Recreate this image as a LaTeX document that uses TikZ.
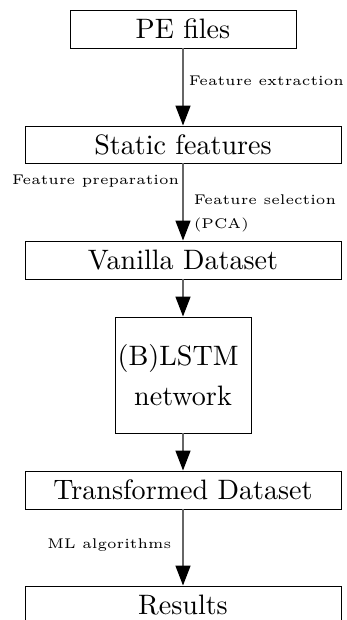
\documentclass[tikz,border=0pt]{standalone}
\usetikzlibrary{arrows.meta}
% one drawing unit
\def\pu{0.356pt}
\tikzset{
  box/.style={draw=black, line width=0.35pt, rectangle, inner sep=0pt,
    font=\fontsize{10}{14.2}\selectfont},
  widebox/.style={box, minimum width=316*\pu, minimum height=38*\pu},
  flow/.style={draw=black!60, line width=0.55pt,
    -{Triangle[length=20*\pu, width=15*\pu, color=black]}},
  lbl/.style={inner sep=0pt, font=\fontsize{5}{8.5}\selectfont}
}
\begin{document}
\begin{tikzpicture}[x=\pu, y=-\pu]
\useasboundingbox (0,0) rectangle (346,620);
\clip (0,0) rectangle (346,620);
\node[box, minimum width=226*\pu, minimum height=38*\pu] (pe) at (183,29) {PE files};
\node[widebox, minimum height=37*\pu] (st) at (183,144.5) {Static features};
\node[widebox] (va) at (183,260) {Vanilla Dataset};
\node[box, minimum width=136*\pu, minimum height=116*\pu, align=center] (ls) at (183,375) {\hspace*{-3.5pt}(B)LSTM\\network};
\node[widebox] (tr) at (183,490) {Transformed Dataset};
\node[widebox] (re) at (183,605) {Results};

\draw[flow] (pe) -- node[lbl, pos=0.42, anchor=west, xshift=5*\pu] {Feature extraction} (st);
\draw[flow] (st) --
  node[lbl, pos=0.23, anchor=east, xshift=-3*\pu] {Feature preparation}
  node[lbl, pos=0.65, anchor=west, xshift=10*\pu, align=left] {Feature selection\\(PCA)} (va);
\draw[flow] (va) -- (ls);
\draw[flow] (ls) -- (tr);
\draw[flow] (tr) -- node[lbl, pos=0.47, anchor=east, xshift=-11*\pu] {ML algorithms} (re);
\end{tikzpicture}
\end{document}
